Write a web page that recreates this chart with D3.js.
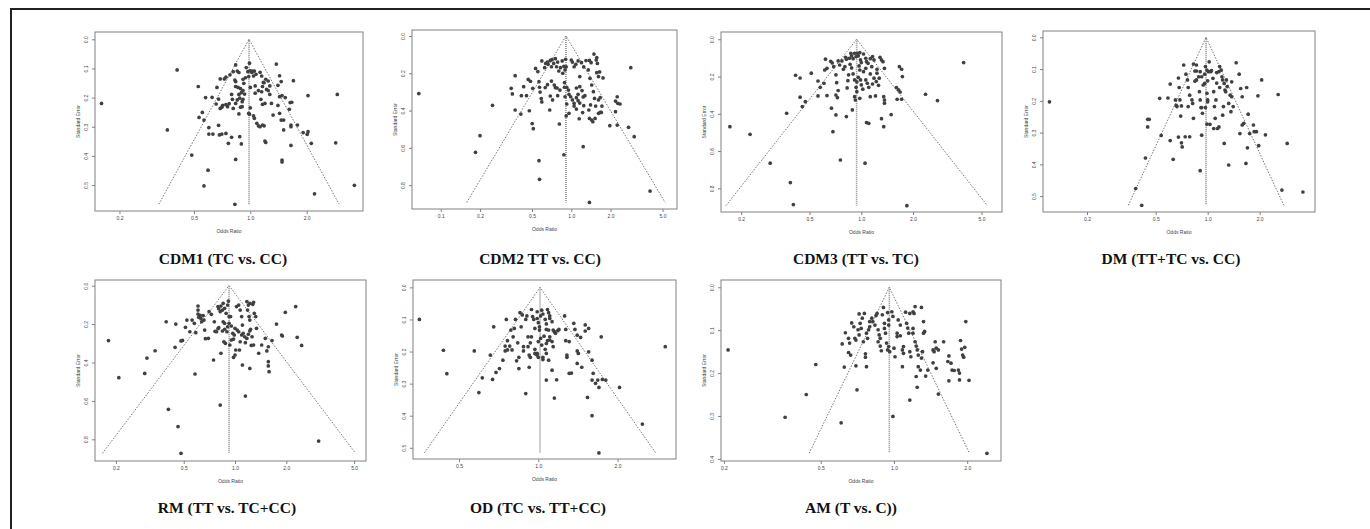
<!DOCTYPE html>
<html><head><meta charset="utf-8">
<script src="https://cdn.jsdelivr.net/npm/d3@7"></script>
<style>body{margin:0;background:#fff}svg{display:block}</style>
</head><body>
<svg id="chart" width="1370" height="529"></svg>
<script>
// ---- data: [log odds ratio, standard error] per study ----
const titles = ["CDM1 (TC vs. CC)", "CDM2 TT vs. CC)", "CDM3 (TT vs. TC)", "DM (TT+TC vs. CC)",
                "RM (TT vs. TC+CC)", "OD (TC vs. TT+CC)", "AM (T vs. C))"];
const pooledLogOR = [-0.016, -0.094, -0.0625, -0.022, -0.081, 0.015, -0.044];

const cdm1 = [[-0.90,0.105],[-1.83,0.220],[-1.02,0.311],[-0.72,0.397],[-0.57,0.503],[-0.52,0.449],[-0.19,0.566],[-0.18,0.412],[-0.64,0.162],[-0.55,0.200],[-0.47,0.199],[-0.63,0.268],[-0.59,0.251],[-0.57,0.277],[-0.51,0.303],[-0.51,0.325],[-0.46,0.325],[-0.39,0.295],[-0.38,0.328],[-0.35,0.325],[-0.30,0.323],[-0.27,0.357],[-0.23,0.336],[-0.13,0.334],[-0.11,0.359],[-0.41,0.165],[-0.37,0.136],[-0.32,0.136],[-0.30,0.130],[-0.25,0.122],[-0.21,0.111],[-0.18,0.088],[-0.16,0.109],[-0.14,0.114],[-0.42,0.222],[-0.39,0.205],[-0.37,0.237],[-0.35,0.233],[-0.34,0.227],[-0.30,0.224],[-0.28,0.231],[-0.26,0.221],[-0.23,0.189],[-0.22,0.206],[-0.21,0.237],[-0.18,0.220],[-0.16,0.208],[-0.12,0.233],[-0.10,0.231],[-0.14,0.256],[-0.13,0.202],[-0.19,0.140],[-0.18,0.145],[-0.18,0.162],[-0.15,0.165],[-0.12,0.169],[-0.09,0.176],[-0.09,0.137],[-0.08,0.151],[-0.06,0.132],[-0.05,0.097],[-0.03,0.111],[-0.02,0.128],[-0.11,0.183],[-0.14,0.189],[-0.09,0.206],[-0.10,0.214],[-0.07,0.188],[-0.01,0.082],[0.00,0.108],[0.02,0.114],[0.03,0.109],[0.05,0.109],[0.04,0.126],[0.07,0.120],[0.00,0.165],[-0.02,0.254],[-0.01,0.257],[0.00,0.235],[0.05,0.271],[0.08,0.288],[0.10,0.297],[0.12,0.300],[0.15,0.294],[0.17,0.297],[0.04,0.263],[0.06,0.160],[0.06,0.185],[0.10,0.176],[0.14,0.180],[0.15,0.162],[0.17,0.149],[0.20,0.172],[0.22,0.176],[0.24,0.189],[0.12,0.113],[0.14,0.126],[0.16,0.148],[0.19,0.137],[0.22,0.143],[0.24,0.160],[0.13,0.206],[0.15,0.223],[0.18,0.220],[0.18,0.349],[0.19,0.354],[0.32,0.085],[0.34,0.158],[0.36,0.125],[0.38,0.145],[0.39,0.193],[0.36,0.197],[0.34,0.227],[0.36,0.254],[0.38,0.277],[0.39,0.414],[0.39,0.421],[0.41,0.311],[0.48,0.240],[0.49,0.217],[0.50,0.300],[0.50,0.294],[0.58,0.294],[0.50,0.364],[0.53,0.142],[0.51,0.216],[0.65,0.320],[0.70,0.326],[0.71,0.317],[0.75,0.357],[0.71,0.193],[1.05,0.355],[1.07,0.189],[0.79,0.530],[1.28,0.501],[0.28,0.260],[0.26,0.220],[0.43,0.200],[0.41,0.277]];

const cdm2 = [[-2.69,0.309],[-1.69,0.624],[-1.61,0.535],[-1.39,0.372],[-1.06,0.281],[-1.04,0.311],[-0.99,0.213],[-0.99,0.397],[-0.89,0.419],[-0.88,0.320],[-0.84,0.272],[-0.79,0.320],[-0.76,0.233],[-0.72,0.243],[-0.74,0.401],[-0.68,0.281],[-0.69,0.470],[-0.67,0.497],[-0.63,0.174],[-0.59,0.191],[-0.57,0.245],[-0.56,0.275],[-0.55,0.301],[-0.57,0.669],[-0.56,0.769],[-0.53,0.336],[-0.52,0.354],[-0.52,0.134],[-0.47,0.170],[-0.45,0.147],[-0.42,0.140],[-0.41,0.152],[-0.37,0.131],[-0.34,0.127],[-0.31,0.147],[-0.28,0.122],[-0.24,0.140],[-0.46,0.277],[-0.42,0.261],[-0.37,0.322],[-0.38,0.397],[-0.30,0.263],[-0.28,0.277],[-0.25,0.279],[-0.20,0.290],[-0.33,0.343],[-0.24,0.320],[-0.21,0.472],[-0.13,0.637],[-0.35,0.242],[-0.35,0.165],[-0.26,0.165],[-0.22,0.188],[-0.16,0.134],[-0.13,0.163],[-0.15,0.200],[-0.19,0.170],[-0.11,0.182],[-0.10,0.125],[-0.09,0.165],[-0.12,0.250],[-0.12,0.275],[-0.08,0.275],[-0.05,0.290],[-0.04,0.313],[-0.01,0.326],[0.02,0.343],[0.05,0.361],[-0.11,0.326],[-0.08,0.365],[0.00,0.129],[0.02,0.140],[0.05,0.165],[0.08,0.152],[0.12,0.134],[0.15,0.218],[0.18,0.143],[0.22,0.166],[0.09,0.279],[0.12,0.313],[0.15,0.272],[0.19,0.293],[0.21,0.327],[0.24,0.320],[0.05,0.376],[0.09,0.392],[0.12,0.347],[0.15,0.360],[-0.04,0.415],[-0.09,0.429],[0.14,0.444],[0.20,0.411],[0.22,0.374],[0.21,0.594],[0.26,0.132],[0.32,0.131],[0.35,0.143],[0.40,0.097],[0.44,0.129],[0.45,0.116],[0.46,0.147],[0.30,0.182],[0.33,0.227],[0.36,0.263],[0.39,0.299],[0.41,0.335],[0.43,0.376],[0.34,0.370],[0.31,0.397],[0.32,0.442],[0.36,0.451],[0.45,0.197],[0.48,0.218],[0.50,0.193],[0.56,0.225],[0.48,0.343],[0.51,0.331],[0.54,0.376],[0.48,0.415],[0.51,0.410],[0.53,0.410],[0.42,0.442],[0.38,0.460],[0.81,0.478],[0.68,0.481],[0.78,0.406],[0.78,0.349],[0.82,0.361],[0.86,0.365],[0.81,0.326],[1.01,0.490],[1.05,0.170],[1.11,0.540],[1.39,0.832],[0.09,0.331],[0.32,0.893]];

const cdm3 = [[-1.76,0.469],[-1.49,0.510],[-1.22,0.665],[-1.00,0.397],[-0.95,0.769],[-0.91,0.887],[-0.88,0.193],[-0.82,0.208],[-0.82,0.311],[-0.79,0.361],[-0.75,0.335],[-0.67,0.182],[-0.58,0.224],[-0.58,0.304],[-0.55,0.258],[-0.50,0.236],[-0.49,0.165],[-0.48,0.107],[-0.46,0.156],[-0.46,0.302],[-0.40,0.370],[-0.38,0.496],[-0.34,0.406],[-0.41,0.118],[-0.39,0.127],[-0.37,0.147],[-0.34,0.191],[-0.33,0.233],[-0.34,0.299],[-0.32,0.313],[-0.31,0.275],[-0.31,0.116],[-0.29,0.138],[-0.26,0.116],[-0.24,0.161],[-0.22,0.147],[-0.21,0.097],[-0.20,0.107],[-0.20,0.415],[-0.19,0.261],[-0.18,0.222],[-0.17,0.191],[-0.12,0.379],[-0.28,0.648],[-0.16,0.102],[-0.14,0.075],[-0.13,0.089],[-0.11,0.104],[-0.09,0.075],[-0.07,0.093],[-0.15,0.134],[-0.13,0.154],[-0.11,0.186],[-0.09,0.218],[-0.07,0.258],[-0.06,0.281],[-0.09,0.308],[-0.08,0.326],[-0.06,0.229],[-0.05,0.075],[-0.04,0.089],[-0.02,0.072],[-0.01,0.111],[-0.03,0.143],[0.00,0.125],[-0.02,0.165],[-0.04,0.204],[-0.01,0.218],[0.00,0.245],[0.02,0.268],[-0.02,0.317],[0.03,0.079],[0.06,0.102],[0.07,0.120],[0.09,0.129],[0.12,0.104],[0.15,0.093],[0.06,0.218],[0.08,0.236],[0.10,0.258],[0.12,0.308],[0.05,0.665],[0.07,0.447],[0.10,0.451],[0.17,0.111],[0.21,0.161],[0.25,0.097],[0.27,0.111],[0.29,0.120],[0.31,0.156],[0.19,0.304],[0.24,0.209],[0.30,0.308],[0.31,0.326],[0.31,0.343],[0.27,0.426],[0.30,0.469],[0.40,0.404],[0.47,0.259],[0.50,0.272],[0.52,0.283],[0.51,0.147],[0.54,0.161],[0.55,0.200],[0.48,0.322],[0.54,0.322],[0.86,0.295],[1.02,0.329],[1.37,0.125],[0.61,0.893],[0.12,0.186],[0.17,0.209],[0.20,0.227],[0.23,0.247],[0.21,0.182],[0.03,0.174],[0.06,0.156],[0.14,0.147],[0.15,0.240]];

const dm = [[-2.11,0.203],[-0.96,0.476],[-0.88,0.529],[-0.83,0.380],[-0.80,0.258],[-0.78,0.258],[-0.80,0.282],[-0.62,0.309],[-0.64,0.192],[-0.53,0.191],[-0.50,0.147],[-0.50,0.325],[-0.46,0.384],[-0.43,0.197],[-0.42,0.214],[-0.41,0.218],[-0.39,0.314],[-0.39,0.128],[-0.38,0.158],[-0.37,0.197],[-0.36,0.248],[-0.35,0.332],[-0.34,0.345],[-0.35,0.216],[-0.32,0.087],[-0.30,0.313],[-0.29,0.116],[-0.27,0.134],[-0.26,0.218],[-0.24,0.313],[-0.26,0.158],[-0.24,0.182],[-0.21,0.197],[-0.20,0.208],[-0.19,0.255],[-0.19,0.084],[-0.17,0.106],[-0.15,0.106],[-0.17,0.138],[-0.15,0.134],[-0.12,0.124],[-0.11,0.171],[-0.10,0.197],[-0.09,0.221],[-0.08,0.308],[-0.08,0.221],[-0.07,0.239],[-0.10,0.420],[-0.06,0.150],[-0.04,0.145],[-0.04,0.116],[-0.03,0.092],[-0.01,0.176],[0.00,0.197],[0.00,0.203],[-0.03,0.221],[-0.01,0.103],[0.01,0.108],[0.00,0.137],[0.02,0.077],[0.04,0.108],[0.03,0.274],[-0.01,0.273],[0.05,0.105],[0.08,0.171],[0.09,0.218],[0.11,0.197],[0.12,0.111],[0.12,0.144],[0.15,0.108],[0.08,0.287],[0.10,0.255],[0.13,0.287],[0.15,0.282],[0.16,0.092],[0.18,0.103],[0.20,0.134],[0.22,0.145],[0.23,0.166],[0.24,0.171],[0.26,0.155],[0.20,0.245],[0.22,0.334],[0.21,0.218],[0.28,0.402],[0.28,0.208],[0.31,0.234],[0.25,0.134],[0.32,0.140],[0.30,0.182],[0.32,0.187],[0.34,0.218],[0.38,0.080],[0.42,0.116],[0.44,0.161],[0.46,0.187],[0.48,0.271],[0.52,0.158],[0.54,0.242],[0.51,0.397],[0.53,0.348],[0.43,0.303],[0.46,0.276],[0.56,0.303],[0.61,0.276],[0.62,0.297],[0.65,0.297],[0.68,0.341],[0.67,0.184],[0.72,0.134],[0.77,0.307],[0.94,0.180],[0.99,0.481],[1.06,0.334],[1.27,0.487],[-0.15,0.087],[-0.10,0.108],[-0.08,0.124],[0.07,0.129],[0.16,0.158],[0.19,0.124]];

const rm = [[-1.71,0.286],[-1.57,0.479],[-1.22,0.457],[-1.19,0.377],[-1.08,0.339],[-0.93,0.188],[-0.81,0.321],[-0.80,0.200],[-0.90,0.644],[-0.77,0.734],[-0.73,0.873],[-0.73,0.288],[-0.71,0.285],[-0.67,0.217],[-0.61,0.240],[-0.65,0.179],[-0.58,0.179],[-0.55,0.196],[-0.53,0.245],[-0.50,0.106],[-0.50,0.148],[-0.49,0.165],[-0.54,0.460],[-0.50,0.127],[-0.47,0.155],[-0.46,0.172],[-0.45,0.188],[-0.43,0.156],[-0.42,0.179],[-0.41,0.231],[-0.40,0.276],[-0.36,0.274],[-0.35,0.135],[-0.32,0.149],[-0.28,0.188],[-0.27,0.238],[-0.25,0.240],[-0.23,0.224],[-0.22,0.219],[-0.23,0.109],[-0.22,0.120],[-0.20,0.135],[-0.19,0.106],[-0.17,0.127],[-0.16,0.092],[-0.14,0.118],[-0.12,0.144],[-0.10,0.101],[-0.09,0.080],[-0.17,0.236],[-0.15,0.292],[-0.13,0.300],[-0.11,0.240],[-0.10,0.214],[-0.16,0.188],[-0.14,0.196],[-0.08,0.161],[-0.14,0.227],[-0.19,0.352],[-0.29,0.387],[-0.08,0.196],[-0.06,0.161],[-0.05,0.210],[-0.03,0.248],[-0.01,0.257],[0.00,0.222],[-0.07,0.309],[-0.05,0.283],[-0.02,0.278],[-0.02,0.373],[0.00,0.361],[0.01,0.335],[0.02,0.109],[0.05,0.101],[0.07,0.127],[0.09,0.161],[0.10,0.205],[0.03,0.231],[0.05,0.240],[0.07,0.292],[0.09,0.257],[0.11,0.248],[0.13,0.266],[0.06,0.335],[0.14,0.297],[0.16,0.274],[0.10,0.413],[0.14,0.575],[0.16,0.083],[0.18,0.101],[0.20,0.092],[0.24,0.097],[0.25,0.087],[0.17,0.127],[0.19,0.161],[0.20,0.179],[0.21,0.227],[0.18,0.253],[0.20,0.236],[0.23,0.266],[0.25,0.309],[0.26,0.144],[0.28,0.161],[0.29,0.222],[0.20,0.431],[0.22,0.311],[0.36,0.309],[0.41,0.274],[0.45,0.318],[0.45,0.396],[0.45,0.418],[0.46,0.448],[0.43,0.340],[0.32,0.352],[0.50,0.286],[0.56,0.200],[0.63,0.257],[0.64,0.262],[0.68,0.139],[0.82,0.109],[0.84,0.269],[0.90,0.311],[1.13,0.809],[-0.20,0.622]];

const od = [[-1.04,0.100],[-0.83,0.196],[-0.80,0.269],[-0.56,0.198],[-0.52,0.328],[-0.49,0.282],[-0.42,0.211],[-0.40,0.287],[-0.39,0.123],[-0.37,0.265],[-0.34,0.253],[-0.31,0.227],[-0.29,0.198],[-0.29,0.183],[-0.27,0.166],[-0.28,0.100],[-0.27,0.195],[-0.25,0.183],[-0.24,0.133],[-0.23,0.195],[-0.22,0.154],[-0.21,0.128],[-0.20,0.100],[-0.19,0.229],[-0.18,0.173],[-0.17,0.218],[-0.17,0.253],[-0.16,0.079],[-0.15,0.123],[-0.14,0.086],[-0.13,0.198],[-0.13,0.185],[-0.11,0.331],[-0.11,0.100],[-0.10,0.089],[-0.09,0.154],[-0.09,0.185],[-0.08,0.249],[-0.08,0.211],[-0.07,0.218],[-0.07,0.173],[-0.06,0.154],[-0.06,0.069],[-0.05,0.091],[-0.04,0.100],[-0.03,0.128],[-0.03,0.206],[-0.03,0.193],[-0.02,0.208],[-0.01,0.206],[-0.01,0.211],[0.00,0.218],[-0.01,0.076],[-0.01,0.097],[0.00,0.110],[0.01,0.123],[0.01,0.133],[0.02,0.089],[0.00,0.169],[0.02,0.159],[0.03,0.180],[0.04,0.218],[0.04,0.225],[0.03,0.071],[0.04,0.083],[0.06,0.100],[0.07,0.114],[0.07,0.131],[0.05,0.152],[0.06,0.193],[0.07,0.206],[0.07,0.175],[0.08,0.166],[0.08,0.069],[0.09,0.079],[0.10,0.097],[0.10,0.089],[0.12,0.107],[0.09,0.133],[0.10,0.154],[0.10,0.164],[0.12,0.169],[0.13,0.185],[0.12,0.258],[0.07,0.289],[0.09,0.227],[0.13,0.133],[0.14,0.138],[0.15,0.143],[0.17,0.135],[0.18,0.131],[0.14,0.345],[0.16,0.288],[0.23,0.089],[0.24,0.131],[0.24,0.166],[0.25,0.211],[0.27,0.169],[0.25,0.218],[0.27,0.268],[0.29,0.267],[0.31,0.112],[0.32,0.131],[0.34,0.149],[0.34,0.198],[0.34,0.237],[0.35,0.206],[0.37,0.156],[0.38,0.249],[0.41,0.136],[0.41,0.117],[0.43,0.343],[0.44,0.128],[0.44,0.201],[0.47,0.227],[0.47,0.289],[0.47,0.400],[0.48,0.268],[0.50,0.299],[0.52,0.289],[0.53,0.312],[0.53,0.516],[0.55,0.154],[0.56,0.287],[0.59,0.289],[0.71,0.312],[0.91,0.426],[1.11,0.185]];

const am = [[-1.57,0.146],[-1.03,0.303],[-0.83,0.250],[-0.74,0.180],[-0.50,0.316],[-0.35,0.239],[-0.49,0.132],[-0.47,0.186],[-0.46,0.106],[-0.43,0.119],[-0.43,0.152],[-0.42,0.130],[-0.41,0.158],[-0.40,0.083],[-0.38,0.092],[-0.37,0.119],[-0.36,0.123],[-0.36,0.183],[-0.34,0.099],[-0.33,0.111],[-0.32,0.084],[-0.31,0.096],[-0.29,0.127],[-0.27,0.155],[-0.33,0.062],[-0.30,0.072],[-0.28,0.061],[-0.27,0.163],[-0.26,0.185],[-0.26,0.107],[-0.25,0.119],[-0.24,0.099],[-0.23,0.092],[-0.23,0.080],[-0.21,0.072],[-0.20,0.080],[-0.18,0.088],[-0.17,0.066],[-0.16,0.061],[-0.15,0.099],[-0.15,0.127],[-0.14,0.111],[-0.13,0.119],[-0.13,0.137],[-0.12,0.148],[-0.11,0.064],[-0.10,0.047],[-0.09,0.084],[-0.09,0.096],[-0.08,0.107],[-0.07,0.130],[-0.06,0.146],[-0.05,0.138],[-0.04,0.150],[-0.06,0.059],[-0.05,0.076],[-0.05,0.088],[-0.02,0.057],[-0.01,0.068],[0.00,0.142],[0.01,0.162],[0.03,0.107],[0.03,0.115],[0.04,0.076],[0.06,0.088],[0.06,0.113],[-0.01,0.301],[0.08,0.146],[0.09,0.154],[0.09,0.138],[0.08,0.185],[0.11,0.058],[0.12,0.084],[0.13,0.095],[0.14,0.107],[0.15,0.061],[0.15,0.150],[0.16,0.162],[0.15,0.263],[0.18,0.107],[0.18,0.096],[0.18,0.057],[0.19,0.061],[0.20,0.045],[0.20,0.127],[0.21,0.137],[0.22,0.146],[0.23,0.158],[0.23,0.185],[0.25,0.193],[0.26,0.165],[0.27,0.150],[0.28,0.107],[0.29,0.103],[0.30,0.207],[0.22,0.233],[0.21,0.208],[0.37,0.146],[0.38,0.150],[0.37,0.176],[0.40,0.189],[0.28,0.080],[0.26,0.047],[0.39,0.127],[0.40,0.142],[0.42,0.146],[0.47,0.127],[0.52,0.160],[0.51,0.173],[0.54,0.177],[0.55,0.193],[0.57,0.194],[0.68,0.080],[0.63,0.124],[0.64,0.144],[0.65,0.158],[0.66,0.163],[0.67,0.140],[0.61,0.193],[0.62,0.200],[0.62,0.216],[0.52,0.218],[0.42,0.249],[0.71,0.217],[0.88,0.387],[0.32,0.193]];

const seriesList = [cdm1, cdm2, cdm3, dm, rm, od, am];

// axis tick values (odds ratio scale) and standard-error ticks
const xTickOR = [[0.2,0.5,1.0,2.0],[0.1,0.2,0.5,1.0,2.0,5.0],[0.2,0.5,1.0,2.0,5.0],[0.2,0.5,1.0,2.0],
                 [0.2,0.5,1.0,2.0,5.0],[0.5,1.0,2.0],[0.2,0.5,1.0,2.0]];
const yTickSE = [[0,0.1,0.2,0.3,0.4,0.5],[0,0.2,0.4,0.6,0.8],[0,0.2,0.4,0.6,0.8],[0,0.1,0.2,0.3,0.4,0.5],
                 [0,0.2,0.4,0.6,0.8],[0,0.1,0.2,0.3,0.4,0.5],[0,0.1,0.2,0.3,0.4]];
// axis limits (log OR, SE)
const xLimits = [[-1.910,1.386],[-2.81,1.865],[-1.879,1.884],[-2.196,1.431],[-1.892,1.770],[-1.096,1.204],[-1.637,1.013]];
const yLimits = [[-0.025,0.589],[-0.032,0.928],[-0.039,0.927],[-0.020,0.550],[-0.0295,0.913],[-0.023,0.535],[-0.017,0.405]];

// ---- layout (pixels) ----
const boxes = [
  {x0:95,  x1:363,  y0:32,  y1:211, cx:223},
  {x0:412, x1:677,  y0:30,  y1:209, cx:540},
  {x0:721, x1:1002, y0:32,  y1:212, cx:856},
  {x0:1043,x1:1315, y0:31,  y1:212, cx:1171},
  {x0:95,  x1:366,  y0:280, y1:461, cx:227},
  {x0:413, x1:676,  y0:280, y1:459, cx:538},
  {x0:721, x1:1001, y0:280, y1:461, cx:851}
];
const captionBaseline = [264, 264, 264, 264, 513, 513, 513];

const svg = d3.select("#chart");
svg.append("rect").attr("x",11).attr("y",9).attr("width",1500).attr("height",700)
   .attr("fill","none").attr("stroke","#222").attr("stroke-width",2);

const fmt = d3.format(".1f");
const axisFont = "'Liberation Sans', Arial, sans-serif";

seriesList.forEach((pts, i) => {
  const b = boxes[i];
  const x = d3.scaleLinear().domain(xLimits[i]).range([b.x0, b.x1]);
  const y = d3.scaleLinear().domain(yLimits[i]).range([b.y0, b.y1]);
  const g = svg.append("g");
  const est = pooledLogOR[i];
  const maxSE = d3.max(pts, d => d[1]);

  // funnel
  g.append("path")
    .attr("d", d3.line()([[x(est - 1.96*maxSE), y(maxSE)], [x(est), y(0)], [x(est + 1.96*maxSE), y(maxSE)]]))
    .attr("fill","none").attr("stroke","#777").attr("stroke-width",1).attr("stroke-dasharray","1.5,1.5");
  // vertical line at pooled estimate
  g.append("line").attr("x1",x(est)).attr("x2",x(est)).attr("y1",y(0)).attr("y2",y(maxSE))
    .attr("stroke","#8a8a8a").attr("stroke-width",1.6).attr("stroke-dasharray","1,1");

  // points
  g.selectAll("circle").data(pts).join("circle")
    .attr("cx", d => x(d[0])).attr("cy", d => y(d[1])).attr("r", 1.85)
    .attr("fill","#404040");

  // box
  g.append("rect").attr("x",b.x0).attr("y",b.y0).attr("width",b.x1-b.x0).attr("height",b.y1-b.y0)
    .attr("fill","none").attr("stroke","#808080").attr("stroke-width",1);

  // x axis
  const xa = d3.axisBottom(x).tickValues(xTickOR[i].map(v => Math.log(v)))
    .tickFormat((d, k) => fmt(xTickOR[i][k])).tickSize(3).tickPadding(2);
  const gx = g.append("g").attr("transform",`translate(0,${b.y1})`).call(xa);
  gx.select(".domain").remove();
  gx.selectAll("line").attr("stroke","#808080");
  gx.selectAll("text").attr("font-size",5).attr("font-family",axisFont).attr("fill","#444");

  // y axis
  const ya = d3.axisLeft(y).tickValues(yTickSE[i]).tickFormat(fmt).tickSize(3).tickPadding(2);
  const gy = g.append("g").attr("transform",`translate(${b.x0},0)`).call(ya);
  gy.select(".domain").remove();
  gy.selectAll("line").attr("stroke","#808080");
  gy.selectAll("text").attr("font-size",5).attr("font-family",axisFont).attr("fill","#444")
    .attr("text-anchor","middle").attr("x",null).attr("dy",null)
    .attr("transform","translate(-7,0) rotate(-90)");

  // axis titles
  g.append("text").attr("x",(b.x0+b.x1)/2).attr("y",b.y1+22).attr("text-anchor","middle")
    .attr("font-size",5).attr("font-family",axisFont).attr("fill","#444").text("Odds Ratio");
  g.append("text").attr("transform",`translate(${b.x0-15},${(b.y0+b.y1)/2}) rotate(-90)`)
    .attr("text-anchor","middle").attr("font-size",5).attr("font-family",axisFont).attr("fill","#444")
    .text("Standard Error");

  // caption
  svg.append("text").attr("x",b.cx).attr("y",captionBaseline[i]).attr("text-anchor","middle")
    .attr("font-family","'Liberation Serif','Times New Roman',serif").attr("font-weight","bold")
    .attr("font-size",15.5).attr("fill","#111").text(titles[i]);
});
</script>
</body></html>
